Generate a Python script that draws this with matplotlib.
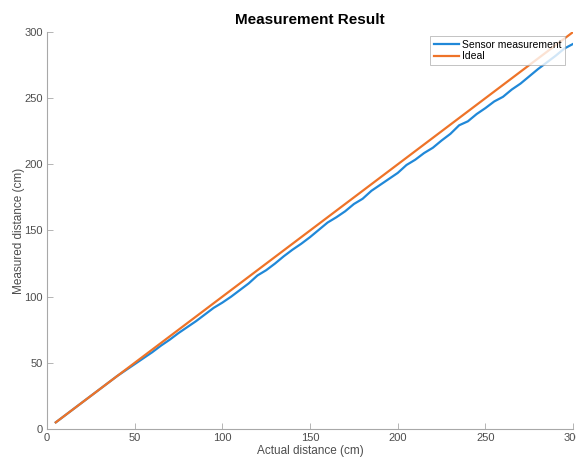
import numpy as np
import matplotlib.pyplot as plt

plt.rcParams['font.family'] = ['Liberation Sans', 'DejaVu Sans']

# actual distance (cm)
actual = np.arange(5, 301, 5)
# sensor readings (cm)
sensor = [5, 10, 15, 20, 25, 30, 35, 40, 44.5, 49,
          53.5, 58, 63, 67.5, 72.5, 77, 81.5, 86.5, 91.5, 95.5,
          100, 105, 110, 116, 120, 125, 130.5, 135.5, 140, 145,
          150.5, 156, 160, 164.5, 170, 174, 180, 184.5, 189, 193.5,
          199.5, 203.5, 208.5, 212.5, 218, 223, 229.5, 232.5, 238, 242.5,
          247.5, 251, 256.5, 261, 266.5, 272, 277, 282, 287.5, 291]
ideal = actual.copy()

ticks = [0, 50, 100, 150, 200, 250, 300]

fig = plt.figure(figsize=(5.76, 4.57), dpi=100)
ax = fig.add_axes([0.0816, 0.0613, 0.9134, 0.8687])

ax.plot(actual, sensor, color='#2088d8', lw=1.6, label='Sensor measurement')
ax.plot(actual, ideal, color='#ee7328', lw=1.6, label='Ideal')

ax.set_xlim(0, 300)
ax.set_ylim(0, 300)
ax.set_xticks(ticks)
ax.set_yticks(ticks)

for s in ['top', 'right']:
    ax.spines[s].set_visible(False)
for s in ['left', 'bottom']:
    ax.spines[s].set_color('#a8a8a8')
    ax.spines[s].set_linewidth(0.8)
ax.tick_params(direction='in', length=4, width=0.6, colors='#a8a8a8',
               labelcolor='#4d4d4d', labelsize=8, pad=3)

ax.set_title('Measurement Result', fontsize=11, fontweight='bold', pad=6)
ax.set_xlabel('Actual distance (cm)', fontsize=8.5, color='#4d4d4d', labelpad=1)
ax.set_ylabel('Measured distance (cm)', fontsize=8.5, color='#4d4d4d')
ax.yaxis.set_label_coords(-0.041, 0.5)

leg = ax.legend(loc='upper right', bbox_to_anchor=(0.985, 0.99), borderaxespad=0,
                fontsize=7.5, frameon=True, fancybox=False, handlelength=2.4,
                borderpad=0.35, labelspacing=0.15, handletextpad=0.3)
leg.get_frame().set_edgecolor('#a8a8a8')
leg.get_frame().set_linewidth(0.6)

fig.savefig('out.png', dpi=100)
